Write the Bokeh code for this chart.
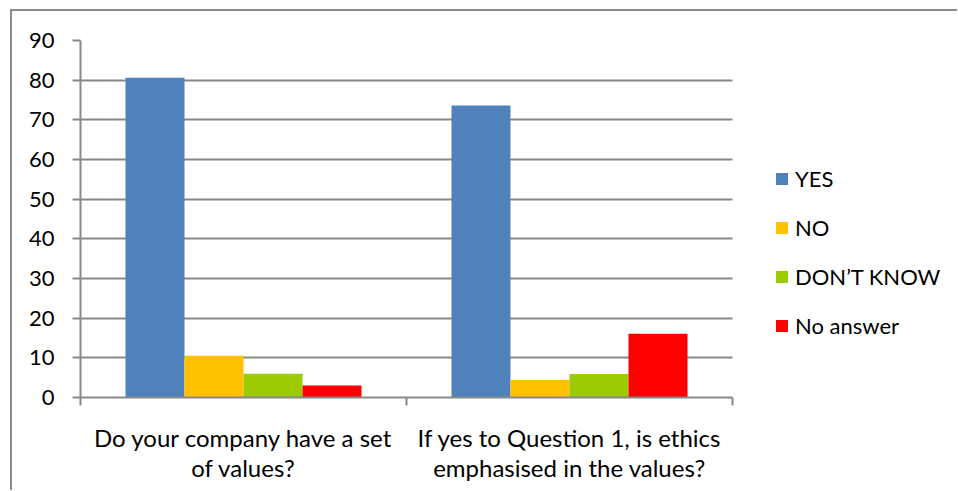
from bokeh.plotting import figure
from bokeh.models import Range1d, FixedTicker, Legend, LegendItem
from bokeh.embed import file_html
from bokeh.resources import INLINE

categories = ["Do your company have a set\nof values?",
              "If yes to Question 1, is ethics\nemphasised in the values?"]
series_names = ["YES", "NO", "DON\u2019T KNOW", "No answer"]
yes = [80.6, 73.6]
no = [10.5, 4.4]
dont_know = [6.0, 5.9]
no_answer = [3.0, 16.1]
y_ticks = [0, 10, 20, 30, 40, 50, 60, 70, 80, 90]

colors = ["#4F81BD", "#FFC000", "#9BCB00", "#FF0000"]
FONT = "Lato"
GRAY = "#888888"

n_cat = len(categories)
# frame spans to the right edge; the category area covers 0..n_cat
x_end = n_cat * 878.0 / 652.0

p = figure(width=947, height=481, output_backend="svg", toolbar_location=None,
           x_range=Range1d(0, x_end), y_range=Range1d(0, 90),
           min_border_left=68, min_border_right=1, min_border_top=29, min_border_bottom=95)
p.styles = {"margin-left": "10px", "margin-top": "9px",
            "border-left": "2px solid #8c8c8c", "border-top": "2px solid #8c8c8c"}
p.outline_line_color = None

centers = [i + 0.5 for i in range(n_cat)]
bw = 0.181
offsets = [-0.2715, -0.0905, 0.0905, 0.2715]
renderers = []
for vals, off, col in zip([yes, no, dont_know, no_answer], offsets, colors):
    r = p.vbar(x=[c + off for c in centers], top=vals, width=bw, bottom=0,
               fill_color=col, line_color=None)
    renderers.append(r)

# y axis
p.yaxis.ticker = FixedTicker(ticks=y_ticks)
p.yaxis.axis_line_color = GRAY
p.yaxis.axis_line_width = 2
p.yaxis.major_tick_line_color = GRAY
p.yaxis.major_tick_line_width = 2
p.yaxis.major_tick_out = 8
p.yaxis.major_tick_in = 0
p.yaxis.minor_tick_line_color = None
p.yaxis.major_label_text_font = FONT
p.yaxis.major_label_text_font_size = "22px"
p.yaxis.major_label_text_color = "#000000"
p.yaxis.major_label_standoff = 18

# x axis
p.xaxis.ticker = FixedTicker(ticks=centers, minor_ticks=list(range(n_cat + 1)))
p.xaxis.major_label_overrides = {c: lab for c, lab in zip(centers, categories)}
p.xaxis.bounds = (0, n_cat)
p.xaxis.axis_line_color = GRAY
p.xaxis.axis_line_width = 2
p.xaxis.major_tick_line_color = None
p.xaxis.major_tick_out = 0
p.xaxis.major_tick_in = 0
p.xaxis.minor_tick_line_color = GRAY
p.xaxis.minor_tick_line_width = 2
p.xaxis.minor_tick_out = 8
p.xaxis.minor_tick_in = 0
p.xaxis.major_label_text_font = FONT
p.xaxis.major_label_text_font_size = "24px"
p.xaxis.major_label_text_color = "#000000"
p.xaxis.major_label_text_line_height = 1.04
p.xaxis.major_label_standoff = 17

p.xgrid.grid_line_color = None
p.ygrid.ticker = FixedTicker(ticks=y_ticks)
p.ygrid.grid_line_color = GRAY
p.ygrid.grid_line_width = 2
p.ygrid.cross_bounds = (0, n_cat)

legend = Legend(items=[LegendItem(label=n, renderers=[r]) for n, r in zip(series_names, renderers)],
                location=(694, 58), orientation="vertical",
                glyph_width=15, glyph_height=15, label_standoff=6, spacing=22,
                padding=0, margin=0, border_line_color=None, background_fill_alpha=0,
                label_text_font=FONT, label_text_font_size="22px", label_text_color="#000000")
p.add_layout(legend, "center")

open("out.html", "w").write(file_html(p, INLINE))
